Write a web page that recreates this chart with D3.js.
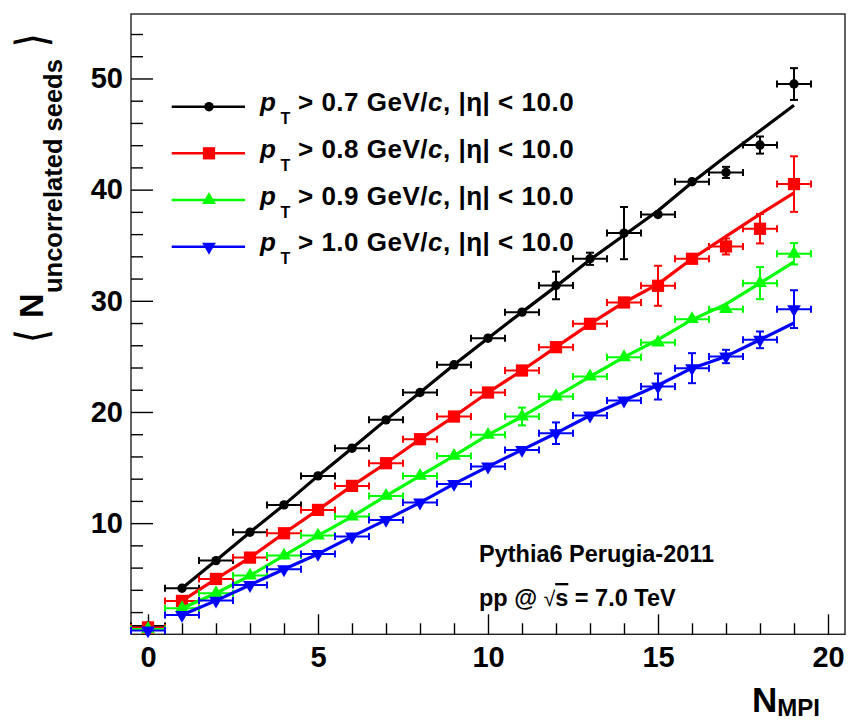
<!DOCTYPE html>
<html>
<head>
<meta charset="utf-8">
<script src="https://cdn.jsdelivr.net/npm/d3@7"></script>
<style>
  body { margin: 0; background: #fff; }
  text { font-family: "Liberation Sans", Arial, Helvetica, sans-serif; font-weight: bold; fill: #000; }
</style>
</head>
<body>
<svg id="chart" width="848" height="720"></svg>
<script>
// Number of multi-parton interactions (bin centres)
const nMPI = [0, 1, 2, 3, 4, 5, 6, 7, 8, 9, 10, 11, 12, 13, 14, 15, 16, 17, 18, 19];

// <N uncorrelated seeds> per pT threshold, with statistical errors
const seeds07 = [0.75, 4.14, 6.63, 9.18, 11.64, 14.25, 16.74, 19.29, 21.75, 24.24, 26.64, 28.98, 31.38, 33.78, 36.09, 37.77, 40.71, 41.55, 44.01, 49.5];
const err07   = [0.1, 0.1, 0.1, 0.1, 0.15, 0.15, 0.2, 0.2, 0.2, 0.2, 0.3, 0.3, 1.24, 0.55, 2.35, 0.3, 0.3, 0.5, 0.77, 1.43];
const seeds08 = [0.62, 3.0, 4.98, 6.9, 9.09, 11.19, 13.35, 15.39, 17.55, 19.59, 21.75, 23.73, 25.83, 27.93, 29.85, 31.35, 33.78, 34.89, 36.48, 40.5];
const err08   = [0.1, 0.1, 0.1, 0.1, 0.15, 0.15, 0.2, 0.2, 0.2, 0.2, 0.3, 0.3, 0.3, 0.3, 0.4, 1.8, 0.3, 0.72, 1.32, 2.5];
const seeds09 = [0.48, 2.34, 3.69, 5.28, 7.08, 8.88, 10.59, 12.45, 14.25, 16.05, 17.94, 19.59, 21.39, 23.19, 24.93, 26.25, 28.35, 29.25, 31.59, 34.23];
const err09   = [0.1, 0.1, 0.1, 0.1, 0.15, 0.15, 0.2, 0.2, 0.2, 0.2, 0.3, 0.8, 0.3, 0.3, 0.3, 0.3, 0.3, 0.3, 1.44, 0.96];
const seeds10 = [0.35, 1.74, 3.03, 4.44, 5.85, 7.23, 8.79, 10.29, 11.85, 13.53, 15.09, 16.59, 18.09, 19.68, 21.03, 22.29, 23.94, 24.99, 26.49, 29.25];
const err10   = [0.1, 0.1, 0.1, 0.1, 0.15, 0.15, 0.2, 0.2, 0.2, 0.2, 0.3, 0.3, 0.97, 0.3, 0.3, 1.17, 1.35, 0.6, 0.75, 1.7];

// Expectation curves, evaluated at N_MPI = 1 ... 19
const curveX  = [1, 2, 3, 4, 5, 6, 7, 8, 9, 10, 11, 12, 13, 14, 15, 16, 17, 18, 19];
const curve07 = [4.14, 6.63, 9.18, 11.64, 14.25, 16.74, 19.29, 21.75, 24.24, 26.64, 28.98, 31.3, 33.7, 35.9, 38.1, 40.65, 43.0, 45.3, 47.6];
const curve08 = [3.0, 4.98, 6.9, 9.09, 11.19, 13.35, 15.39, 17.55, 19.59, 21.75, 23.73, 25.83, 27.93, 29.85, 31.5, 33.78, 35.8, 37.8, 39.7];
const curve09 = [2.34, 3.69, 5.28, 7.08, 8.88, 10.59, 12.45, 14.25, 16.05, 17.94, 19.59, 21.39, 23.19, 24.93, 26.5, 28.3, 29.7, 31.6, 33.5];
const curve10 = [1.74, 3.03, 4.44, 5.85, 7.23, 8.79, 10.29, 11.85, 13.53, 15.09, 16.59, 18.09, 19.68, 21.03, 22.4, 23.94, 25.0, 26.5, 28.0];

// Legend thresholds
const ptCuts = ["0.7", "0.8", "0.9", "1.0"];

// Axis ticks
const xMajor = [0, 5, 10, 15, 20];
const xMinor = [1, 2, 3, 4, 6, 7, 8, 9, 11, 12, 13, 14, 16, 17, 18, 19];
const yMajor = [10, 20, 30, 40, 50];
const yMinor = [2, 4, 6, 8, 12, 14, 16, 18, 22, 24, 26, 28, 32, 34, 36, 38, 42, 44, 46, 48, 52, 54];

const series = [
  { y: seeds07, e: err07, c: curve07, color: "#000000", shape: "circle" },
  { y: seeds08, e: err08, c: curve08, color: "#ff0000", shape: "square" },
  { y: seeds09, e: err09, c: curve09, color: "#00ff00", shape: "triUp" },
  { y: seeds10, e: err10, c: curve10, color: "#0000ff", shape: "triDown" }
];

const svg = d3.select("#chart");
const L = 131, R = 845, T = 14, B = 634.3;

const x = d3.scaleLinear().domain([-0.5, 20.5]).range([L, R]);
const y = d3.scaleLinear().domain([0, 55.8]).range([B, T]);

function symbolPath(shape) {
  if (shape === "circle") return d3.symbol(d3.symbolCircle, 70)();
  if (shape === "square") return d3.symbol(d3.symbolSquare, 150)();
  return d3.symbol(d3.symbolTriangle, 82)();
}
function drawMarker(g, shape, color, px, py) {
  return g.append("path")
    .attr("d", symbolPath(shape))
    .attr("fill", color)
    .attr("transform", `translate(${px},${py})` + (shape === "triDown" ? " rotate(180)" : ""));
}

// Frame
svg.append("rect")
  .attr("x", L).attr("y", T).attr("width", R - L).attr("height", B - T)
  .attr("fill", "none").attr("stroke", "#222").attr("stroke-width", 1.4);

// Axes with inward ticks
const fontTick = 29;
const gx = svg.append("g").attr("transform", `translate(0,${B})`);
gx.call(d3.axisBottom(x).tickValues(xMajor).tickSize(-20).tickPadding(12.5).tickFormat(d3.format("d")));
const gxm = svg.append("g").attr("transform", `translate(0,${B})`);
gxm.call(d3.axisBottom(x).tickValues(xMinor).tickSize(-11).tickFormat(""));

const gy = svg.append("g").attr("transform", `translate(${L},0)`);
gy.call(d3.axisLeft(y).tickValues(yMajor).tickSize(-22).tickPadding(8).tickFormat(d3.format("d")));
const gym = svg.append("g").attr("transform", `translate(${L},0)`);
gym.call(d3.axisLeft(y).tickValues(yMinor).tickSize(-12).tickFormat(""));

svg.selectAll(".domain").remove();
svg.selectAll(".tick line").attr("stroke", "#000").attr("stroke-width", 1.4);
svg.selectAll(".tick text")
  .attr("font-size", fontTick)
  .attr("font-family", "'Liberation Sans', Arial, sans-serif")
  .attr("font-weight", "bold")
  .attr("fill", "#000");

// Data
const plot = svg.append("g");
const capH = 3.5, capV = 4;
series.forEach(s => {
  // expectation curve
  plot.append("path")
    .datum(curveX.map((v, i) => [v, s.c[i]]))
    .attr("d", d3.line().x(d => x(d[0])).y(d => y(d[1])))
    .attr("fill", "none").attr("stroke", s.color).attr("stroke-width", 3.2)
    .attr("stroke-linejoin", "round");

  const g = plot.append("g").attr("stroke", s.color).attr("stroke-width", 2);
  nMPI.forEach((n, i) => {
    const cx = x(n), cy = y(s.y[i]);
    const x0 = x(n - 0.5), x1 = x(n + 0.5);
    g.append("line").attr("x1", x0).attr("x2", x1).attr("y1", cy).attr("y2", cy);
    g.append("line").attr("x1", x0).attr("x2", x0).attr("y1", cy - capH).attr("y2", cy + capH);
    g.append("line").attr("x1", x1).attr("x2", x1).attr("y1", cy - capH).attr("y2", cy + capH);
    const yt = y(s.y[i] + s.e[i]), yb = y(s.y[i] - s.e[i]);
    if (cy - yt > 5) {
      g.append("line").attr("x1", cx).attr("x2", cx).attr("y1", yt).attr("y2", yb);
      g.append("line").attr("x1", cx - capV).attr("x2", cx + capV).attr("y1", yt).attr("y2", yt);
      g.append("line").attr("x1", cx - capV).attr("x2", cx + capV).attr("y1", yb).attr("y2", yb);
    }
  });
  const gm = plot.append("g");
  nMPI.forEach((n, i) => drawMarker(gm, s.shape, s.color, x(n), y(s.y[i])));
});

// Legend
const legRows = [106.7, 153.3, 200, 246.7];
const legFont = 26;
series.forEach((s, k) => {
  const ly = legRows[k];
  svg.append("line").attr("x1", 171.7).attr("x2", 245).attr("y1", ly).attr("y2", ly)
    .attr("stroke", s.color).attr("stroke-width", 2.5);
  drawMarker(svg, s.shape, s.color, 209, ly);
  const t = svg.append("text").attr("font-size", legFont).attr("y", ly + 4.5);
  t.append("tspan").attr("x", 260).attr("font-style", "italic").text("p");
  t.append("tspan").attr("x", 280.5).attr("dy", 13).attr("font-size", 16).text("T");
  t.append("tspan").attr("x", 298).attr("dy", -13).attr("letter-spacing", 0.5).text("> " + ptCuts[k] + " GeV/");
  t.append("tspan").attr("font-style", "italic").attr("letter-spacing", 0.5).text("c");
  t.append("tspan").attr("letter-spacing", 0.5).text(", |η| < 10.0");
});

// Annotations
svg.append("text").attr("x", 479).attr("y", 561.7).attr("font-size", 23.5).text("Pythia6 Perugia-2011");
const ann = svg.append("text").attr("x", 479).attr("y", 606).attr("font-size", 23.5);
ann.append("tspan").text("pp @ ");
ann.append("tspan").attr("font-weight", "normal").attr("font-size", 21).text("√");
ann.append("tspan").style("text-decoration", "overline").text("s");
ann.append("tspan").text(" = 7.0 TeV");

// Axis titles
const xt = svg.append("text").attr("x", 752).attr("y", 712).attr("font-size", 35);
xt.append("tspan").text("N");
xt.append("tspan").attr("dy", 4).attr("font-size", 24).text("MPI");

const yt = svg.append("g").attr("transform", "rotate(-90)");
function bracket(ch, xr) {
  // thin, flattened angle bracket around the quantity
  yt.append("text")
    .attr("transform", `translate(${xr},31.5) scale(1.0,1.4)`)
    .attr("text-anchor", "middle").attr("dominant-baseline", "central")
    .attr("font-family", "'DejaVu Sans', sans-serif").attr("font-weight", 200)
    .attr("font-size", 30).text(ch);
}
bracket("⟨", -336);
yt.append("text").attr("x", -318).attr("y", 43).attr("font-size", 34).text("N");
yt.append("text").attr("x", -293).attr("y", 62).attr("font-size", 25.5).text("uncorrelated seeds");
bracket("⟩", -40);
</script>
</body>
</html>
